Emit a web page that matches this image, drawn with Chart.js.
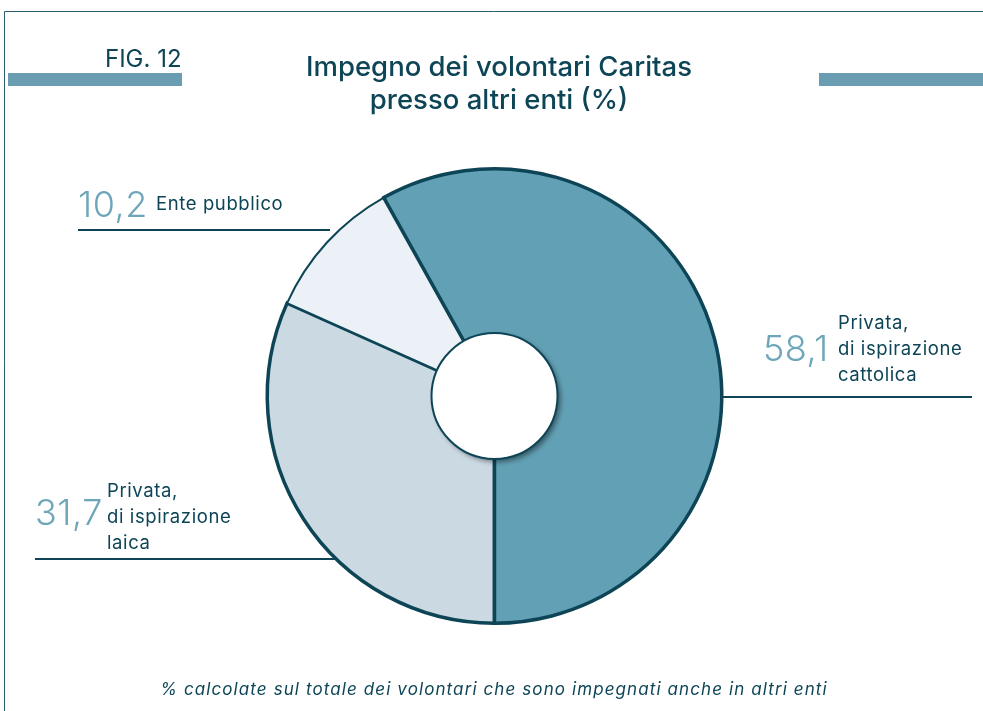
<!DOCTYPE html>
<html>
<head>
<meta charset="utf-8">
<script src="https://cdn.jsdelivr.net/npm/chart.js@4/dist/chart.umd.min.js"></script>
<style>
  body { margin: 0; background: #fff; }
  #wrap { width: 983px; height: 711px; }
</style>
</head>
<body>
<div id="wrap"><canvas id="enteChart" width="983" height="711"></canvas></div>
<script>
// dati della figura
const categories = ['Privata, di ispirazione laica', 'Ente pubblico', 'Privata, di ispirazione cattolica'];
const values = [31.7, 10.2, 58.1];
const valueLabels = ['31,7', '10,2', '58,1'];
const labelLines = [['Privata,', 'di ispirazione', 'laica'], ['Ente pubblico'], ['Privata,', 'di ispirazione', 'cattolica']];
const sliceColors = ['#cbd9e2', '#ebf1f6', '#62a0b5'];

const dark = '#0d4557';
const lightNum = '#6ea6b9';
const FONT = 'Inter, "Noto Sans", sans-serif';

// posizioni delle etichette (layout)
const labelPos = [
  { x: 35, numBase: 525, textX: 107, textBase: 497, lineY: 559, lineX1: 35, lineX2: 336 },
  { x: 78, numBase: 217, textX: 156, textBase: 210, lineY: 230, lineX1: 78, lineX2: 330 },
  { x: 763, numBase: 361, textX: 838, textBase: 329, lineY: 397, lineX1: 722, lineX2: 972 }
];

const decor = {
  id: 'decor',
  beforeDraw(chart) {
    const c = chart.ctx;
    c.save();
    // cornice
    c.strokeStyle = '#2b5f6f';
    c.lineWidth = 1;
    c.beginPath();
    c.moveTo(4.5, 711);
    c.lineTo(4.5, 11.5);
    c.lineTo(983, 11.5);
    c.stroke();
    // barre
    c.fillStyle = '#6a9db1';
    c.fillRect(8, 73, 174, 13);
    c.fillRect(819, 73, 164, 13);
    // titoli
    c.fillStyle = dark;
    c.textBaseline = 'alphabetic';
    c.textAlign = 'left';
    c.font = '24px ' + FONT;
    c.fillText('FIG. 12', 105, 67);
    c.textAlign = 'center';
    c.font = '500 27.5px ' + FONT;
    c.fillText('Impegno dei volontari Caritas', 499, 76);
    c.fillText('presso altri enti (%)', 499, 109);
    // nota
    c.font = 'italic 17px ' + FONT;
    c.letterSpacing = '1.1px';
    c.fillText('% calcolate sul totale dei volontari che sono impegnati anche in altri enti', 494, 695);
    // etichette
    c.textAlign = 'left';
    values.forEach((v, i) => {
      const p = labelPos[i];
      c.strokeStyle = dark;
      c.lineWidth = 2;
      c.beginPath();
      c.moveTo(p.lineX1, p.lineY);
      c.lineTo(p.lineX2, p.lineY);
      c.stroke();
      c.fillStyle = lightNum;
      c.letterSpacing = '0.5px';
      c.font = '300 36px ' + FONT;
      c.fillText(valueLabels[i], p.x, p.numBase);
      c.fillStyle = dark;
      c.letterSpacing = '0.6px';
      c.font = '18.5px ' + FONT;
      labelLines[i].forEach((t, k) => c.fillText(t, p.textX, p.textBase + k * 26));
    });
    c.restore();
  },
  afterDatasetsDraw(chart) {
    const arc = chart.getDatasetMeta(0).data[0];
    const c = chart.ctx;
    c.save();
    c.shadowColor = 'rgba(0,0,0,0.45)';
    c.shadowBlur = 5;
    c.shadowOffsetX = 3;
    c.shadowOffsetY = 3;
    c.fillStyle = '#ffffff';
    c.beginPath();
    c.arc(arc.x, arc.y, 63, 0, Math.PI * 2);
    c.fill();
    c.shadowColor = 'transparent';
    c.strokeStyle = dark;
    c.lineWidth = 2;
    c.stroke();
    c.restore();
  }
};

new Chart(document.getElementById('enteChart').getContext('2d'), {
  type: 'doughnut',
  data: {
    labels: categories,
    datasets: [{
      data: values,
      backgroundColor: sliceColors,
      borderColor: dark,
      borderWidth: [3.5, 2, 3.5],
      borderJoinStyle: 'miter'
    }]
  },
  options: {
    responsive: false,
    animation: false,
    rotation: 180,
    cutout: '27%',
    layout: { padding: { left: 265, right: 259, top: 167, bottom: 86 } },
    plugins: {
      legend: { display: false },
      tooltip: { enabled: false }
    }
  },
  plugins: [decor]
});
</script>
</body>
</html>
